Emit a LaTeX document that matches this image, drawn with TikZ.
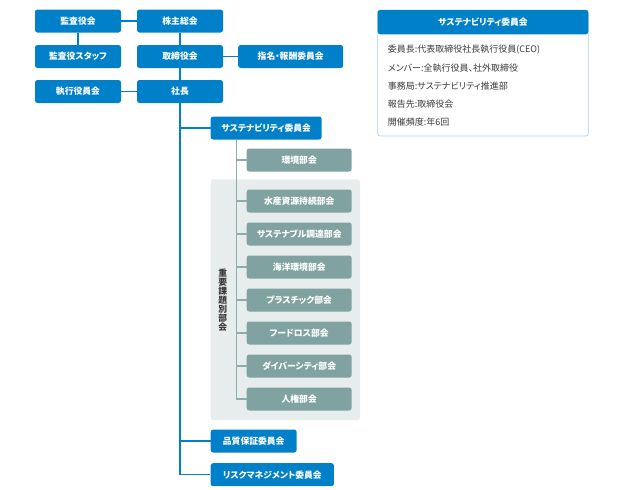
\documentclass[tikz,border=0pt]{standalone}
\usepackage{fontspec}
\setmainfont{Noto Sans CJK JP}[RawFeature=+palt]
\usetikzlibrary{positioning}

\definecolor{mainblue}{HTML}{0080C9}
\definecolor{subgray}{HTML}{80A3A1}
\definecolor{panelbg}{HTML}{E7EDEC}
\definecolor{linegray}{HTML}{8CADAB}
\definecolor{frameblue}{HTML}{A9D5F1}
\definecolor{textdark}{HTML}{3A3A3A}

\tikzset{
  orgbox/.style={rounded corners=2.5pt, text=white, inner sep=0pt,
    font=\fontsize{8.8}{10}\selectfont\bfseries, minimum height=23pt},
  bluebox/.style={orgbox, fill=mainblue, minimum width=86pt},
  graybox/.style={orgbox, fill=subgray, minimum width=105pt},
  blueline/.style={draw=mainblue, line width=1.3pt},
  grayline/.style={draw=linegray, line width=1.3pt},
  infotext/.style={anchor=west, text=textdark, inner sep=0pt,
    font=\fontsize{9}{10}\selectfont}
}

\begin{document}
\begin{tikzpicture}[x=1pt,y=-1pt]
  \useasboundingbox (0,0) rectangle (630,490);

  % background panel for the issue groups
  \fill[panelbg, rounded corners=2.5pt] (210.7,179.3) rectangle (360,420);

  % top of the organisation
  \node[bluebox] (audit) at (78,21) {監査役会};
  \node[bluebox] (agm) at (180,21) {株主総会};
  \node[bluebox] (auditstaff) at (78,56.5) {監査役スタッフ};
  \node[bluebox] (board) at (180,56.5) {取締役会};
  \node[bluebox, minimum width=105pt] (nomin) at (290.7,56.5) {指名・報酬委員会};
  \node[bluebox] (exec) at (78,91.5) {執行役員会};
  \node[bluebox] (pres) at (180,91.5) {社長};

  % committees under the president
  \node[bluebox, minimum width=111pt] (sust) at (266.2,128) {サステナビリティ委員会};
  \node[bluebox] (qa) at (253.7,441) {品質保証委員会};
  \node[bluebox, minimum width=123.3pt] (risk) at (272.3,474.7) {リスクマネジメント委員会};

  % sub-committees
  \node[graybox] (env) at (299.2,160) {環境部会};
  \node[graybox] (fish) at (299.2,201) {水産資源持続部会};
  \node[graybox] (procure) at (299.2,234) {サステナブル調達部会};
  \node[graybox] (ocean) at (299.2,267) {海洋環境部会};
  \node[graybox] (plastic) at (299.2,300) {プラスチック部会};
  \node[graybox] (food) at (299.2,333) {フードロス部会};
  \node[graybox] (divers) at (299.2,366) {ダイバーシティ部会};
  \node[graybox] (rights) at (299.2,399) {人権部会};

  \node[text=textdark, font=\fontsize{8.8}{9.1}\selectfont\bfseries, align=center, inner sep=0pt]
    (issues) at (222.7,300) {重\\要\\課\\題\\別\\部\\会};

  % connectors
  \draw[blueline] (audit) -- (agm);
  \draw[blueline] (audit) -- (auditstaff);
  \draw[blueline] (agm) -- (board);
  \draw[blueline] (board) -- (nomin);
  \draw[blueline] (board) -- (pres);
  \draw[blueline] (exec) -- (pres);
  \foreach \n in {sust, qa, risk}
    \draw[blueline] (pres.south) |- (\n.west);

  \coordinate (spine) at (236.7,139.3);
  \foreach \n in {env, fish, procure, ocean, plastic, food, divers, rights}
    \draw[grayline] (spine) |- (\n.west);

  % info box
  \draw[frameblue, line width=0.8pt, rounded corners=2.5pt] (377.7,10) rectangle (588.3,136);
  \fill[mainblue, rounded corners=2.5pt] (377.7,34.3) -- (377.7,10) -- (588.3,10) -- (588.3,34.3) -- cycle;
  \node[text=white, font=\fontsize{8.8}{10}\selectfont\bfseries] (infohead) at (483,22) {サステナビリティ委員会};
  \node[infotext] (chair) at (387.7,50) {委員長:代表取締役社長執行役員(CEO)};
  \node[infotext] (member) at (387.7,68.3) {メンバー:全執行役員、社外取締役};
  \node[infotext] (office) at (387.7,86) {事務局:サステナビリティ推進部};
  \node[infotext] (report) at (387.7,104) {報告先:取締役会};
  \node[infotext] (freq) at (387.7,121.7) {開催頻度:年6回};
\end{tikzpicture}
\end{document}
